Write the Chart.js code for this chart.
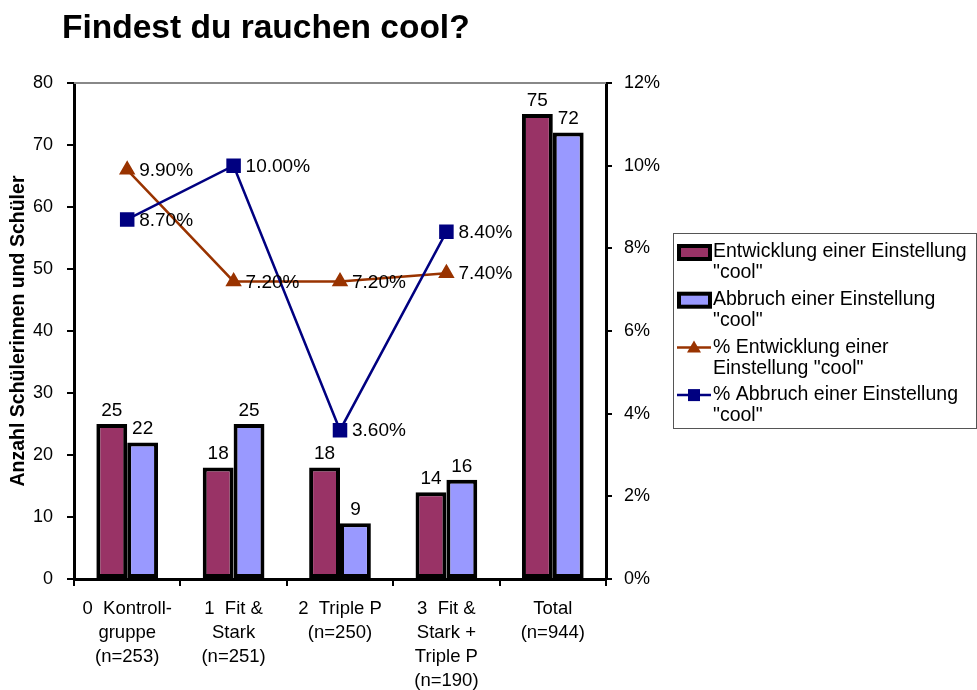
<!DOCTYPE html>
<html>
<head>
<meta charset="utf-8">
<script src="https://cdn.jsdelivr.net/npm/chart.js@4.4.0/dist/chart.umd.min.js"></script>
<style>
  html, body { margin: 0; padding: 0; background: #fff; }
  #wrap { position: relative; width: 977px; height: 690px; }
</style>
</head>
<body>
<div id="wrap"><canvas id="chart" width="977" height="690"></canvas></div>
<script>
const FONT = "'Liberation Sans', Arial, sans-serif";

const chartTitle = "Findest du rauchen cool?";
const categories = [
  ["0  Kontroll-", "gruppe", "(n=253)"],
  ["1  Fit &", "Stark", "(n=251)"],
  ["2  Triple P", "(n=250)"],
  ["3  Fit &", "Stark +", "Triple P", "(n=190)"],
  ["Total", "(n=944)"],
];
const entwicklung = [25, 18, 18, 14, 75];
const abbruch = [22, 25, 9, 16, 72];
const pctEntwicklung = [9.9, 7.2, 7.2, 7.4, null];
const pctAbbruch = [8.7, 10.0, 3.6, 8.4, null];

const labelEntwicklung = 'Entwicklung einer Einstellung "cool"';
const labelAbbruch = 'Abbruch einer Einstellung "cool"';
const labelPctEntwicklung = '% Entwicklung einer Einstellung "cool"';
const labelPctAbbruch = '% Abbruch einer Einstellung "cool"';

// value labels next to bars / points
const valueLabels = {
  id: "valueLabels",
  afterDatasetsDraw(chart) {
    const ctx = chart.ctx;
    ctx.save();
    ctx.fillStyle = "#000";
    ctx.font = "19px " + FONT;
    chart.data.datasets.forEach((ds, i) => {
      const meta = chart.getDatasetMeta(i);
      meta.data.forEach((el, j) => {
        const v = ds.data[j];
        if (v === null || v === undefined) return;
        if (ds.type === "line") {
          ctx.textAlign = "left";
          ctx.textBaseline = "middle";
          ctx.fillText(v.toFixed(2) + "%", el.x + 12, el.y + 1);
        } else {
          ctx.textAlign = "center";
          ctx.textBaseline = "bottom";
          ctx.fillText(String(v), el.x, el.y - 4);
        }
      });
    });
    ctx.restore();
  },
};

// title, plot frame and the boxed legend on the right
const decorations = {
  id: "decorations",
  beforeDatasetsDraw(chart) {
    const { ctx, chartArea } = chart;
    ctx.save();
    ctx.strokeStyle = "#888";
    ctx.lineWidth = 2;
    ctx.beginPath();
    ctx.moveTo(chartArea.left, chartArea.top);
    ctx.lineTo(chartArea.right, chartArea.top);
    ctx.stroke();
    ctx.restore();
  },
  afterDraw(chart) {
    const ctx = chart.ctx;
    ctx.save();
    ctx.fillStyle = "#000";
    ctx.font = "bold 33.5px " + FONT;
    ctx.textAlign = "left";
    ctx.textBaseline = "alphabetic";
    ctx.fillText(chartTitle, 62, 38);

    // legend
    const box = { x: 673, y: 233, w: 303, h: 195 };
    ctx.strokeStyle = "#555";
    ctx.lineWidth = 1;
    ctx.strokeRect(box.x + 0.5, box.y + 0.5, box.w, box.h);
    ctx.font = "19.5px " + FONT;
    ctx.textBaseline = "middle";
    const textX = 713;
    const maxW = 977 - textX - 4;
    let y = 252;
    chart.data.datasets.forEach((ds) => {
      const words = ds.label.split(" ");
      const lines = [];
      let cur = "";
      words.forEach((w) => {
        const test = cur ? cur + " " + w : w;
        if (cur && ctx.measureText(test).width > maxW) {
          lines.push(cur);
          cur = w;
        } else cur = test;
      });
      lines.push(cur);

      if (ds.type === "line") {
        ctx.strokeStyle = ds.borderColor;
        ctx.lineWidth = 2.5;
        ctx.beginPath();
        ctx.moveTo(677, y);
        ctx.lineTo(711, y);
        ctx.stroke();
        ctx.fillStyle = ds.pointBackgroundColor;
        if (ds.pointStyle === "triangle") {
          ctx.beginPath();
          ctx.moveTo(694, y - 7);
          ctx.lineTo(701, y + 5);
          ctx.lineTo(687, y + 5);
          ctx.closePath();
          ctx.fill();
        } else {
          ctx.fillRect(688, y - 6, 12, 12);
        }
      } else {
        ctx.fillStyle = "#000";
        ctx.fillRect(677, y - 8, 35, 17);
        ctx.fillStyle = ds.backgroundColor;
        ctx.fillRect(681, y - 4, 27, 9);
      }
      ctx.fillStyle = "#000";
      lines.forEach((ln, k) => ctx.fillText(ln, textX, y + k * 21));
      y += 47.7;
    });
    ctx.restore();
  },
};

new Chart(document.getElementById("chart"), {
  type: "bar",
  data: {
    labels: categories,
    datasets: [
      {
        type: "bar",
        label: labelEntwicklung,
        data: entwicklung,
        backgroundColor: "#993366",
        borderColor: "#000",
        borderWidth: 4,
        borderSkipped: false,
        yAxisID: "y",
        order: 2,
      },
      {
        type: "bar",
        label: labelAbbruch,
        data: abbruch,
        backgroundColor: "#9999FF",
        borderColor: "#000",
        borderWidth: 4,
        borderSkipped: false,
        yAxisID: "y",
        order: 2,
      },
      {
        type: "line",
        label: labelPctEntwicklung,
        data: pctEntwicklung,
        borderColor: "#993300",
        backgroundColor: "#993300",
        pointBackgroundColor: "#993300",
        pointBorderColor: "#993300",
        pointStyle: "triangle",
        pointRadius: 7,
        borderWidth: 2.5,
        tension: 0,
        spanGaps: false,
        yAxisID: "y1",
        order: 1,
      },
      {
        type: "line",
        label: labelPctAbbruch,
        data: pctAbbruch,
        borderColor: "#000080",
        backgroundColor: "#000080",
        pointBackgroundColor: "#000080",
        pointBorderColor: "#000080",
        pointStyle: "rect",
        pointRadius: 8.5,
        borderWidth: 2.5,
        tension: 0,
        spanGaps: false,
        yAxisID: "y1",
        order: 0,
      },
    ],
  },
  options: {
    responsive: false,
    animation: false,
    devicePixelRatio: 1,
    layout: { padding: { top: 83, right: 311, bottom: 0, left: 0 } },
    datasets: { bar: { categoryPercentage: 0.58, barPercentage: 1 } },
    plugins: {
      legend: { display: false },
      title: { display: false },
      tooltip: { enabled: false },
    },
    scales: {
      x: {
        grid: {
          offset: true,
          drawOnChartArea: false,
          drawTicks: true,
          tickLength: 7,
          color: "#000",
          lineWidth: 2,
        },
        border: { color: "#000", width: 3 },
        ticks: {
          color: "#000",
          font: { family: FONT, size: 18.5, lineHeight: 1.3 },
          padding: 11,
          maxRotation: 0,
          autoSkip: false,
        },
        afterFit(s) { s.height = 111; },
      },
      y: {
        position: "left",
        min: 0,
        max: 80,
        ticks: {
          stepSize: 10,
          color: "#000",
          font: { family: FONT, size: 18 },
          padding: 14,
        },
        grid: {
          drawOnChartArea: false,
          tickLength: 7,
          color: "#000",
          lineWidth: 2,
        },
        border: { color: "#000", width: 3 },
        title: {
          display: true,
          text: "Anzahl Schülerinnen und Schüler",
          color: "#000",
          font: { family: FONT, size: 19.5, weight: "bold" },
          padding: { top: 7, bottom: 0 },
        },
        afterFit(s) { s.width = 74; },
      },
      y1: {
        position: "right",
        min: 0,
        max: 12,
        ticks: {
          stepSize: 2,
          color: "#000",
          font: { family: FONT, size: 18 },
          padding: 12,
          callback: (v) => v + "%",
        },
        grid: {
          drawOnChartArea: false,
          tickLength: 6,
          color: "#000",
          lineWidth: 2,
        },
        border: { color: "#000", width: 3 },
        afterFit(s) { s.width = 60; },
      },
    },
  },
  plugins: [decorations, valueLabels],
});
</script>
</body>
</html>
